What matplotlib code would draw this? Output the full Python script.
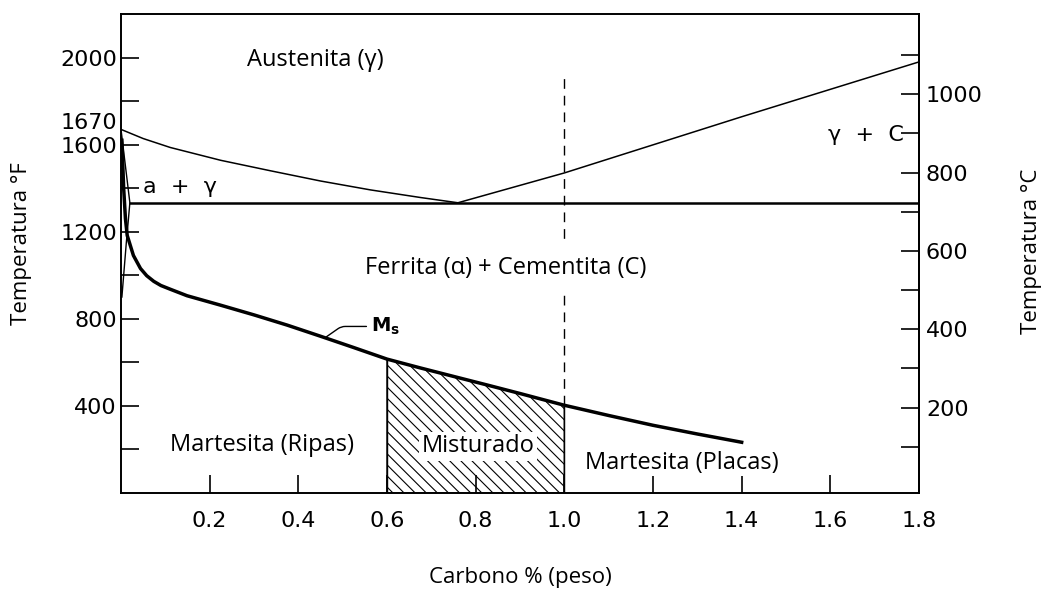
import numpy as np
import matplotlib
matplotlib.use("Agg")
import matplotlib.pyplot as plt

# eixo x: carbono (% peso), eixo y: temperatura (°F)
carbon_ticks = [0.2, 0.4, 0.6, 0.8, 1.0, 1.2, 1.4, 1.6, 1.8]
temp_f_ticks = [200, 400, 600, 800, 1000, 1200, 1400, 1600, 1800, 2000]
temp_f_labels = ['', '400', '', '800', '', '1200', '', '1600', '', '2000']
temp_c_ticks = [100, 200, 300, 400, 500, 600, 700, 800, 900, 1000, 1100]
temp_c_labels = ['', '200', '', '400', '', '600', '', '800', '', '1000', '']

# linha A3 (gama / alfa+gama)
a3_c = [0.0, 0.05, 0.111, 0.225, 0.337, 0.45, 0.563, 0.676, 0.76]
a3_f = [1670, 1628, 1587, 1528, 1480, 1433, 1392, 1357, 1333]
# linha Acm
acm_c = [0.76, 1.0, 1.4, 1.8]
acm_f = [1333, 1470, 1728, 1980]
# linha A1 (eutetoide)
a1_c = [0.02, 1.8]
a1_f = [1333, 1333]
# fronteira ferrita
alpha_c = [0.0, 0.02, 0.012, 0.006, 0.002]
alpha_f = [1670, 1333, 1150, 1000, 900]
# Ms
ms_c = [0.002, 0.006, 0.01, 0.014, 0.028, 0.044, 0.058, 0.074, 0.09, 0.111,
        0.149, 0.224, 0.3, 0.375, 0.45, 0.525, 0.6, 0.676, 0.751, 0.826,
        0.9, 1.0, 1.1, 1.2, 1.3, 1.4]
ms_f = [1620, 1400, 1260, 1183, 1091, 1031, 998, 972, 953, 936,
        906, 863, 818, 771, 720, 668, 615, 574, 535, 496,
        457, 403, 356, 311, 271, 233]
mixed_lo, mixed_hi = 0.6, 1.0
dashed_top = 1910

def f2c(f):
    return (np.asarray(f) - 32) * 5 / 9

def c2f(c):
    return np.asarray(c) * 9 / 5 + 32

label_font = 'Open Sans'
tick_font = 'DejaVu Sans'
plt.rcParams['hatch.linewidth'] = 0.8

fig = plt.figure(figsize=(10.45, 5.9), dpi=100)
ax = fig.add_axes([121/1045, 97/590, 798/1045, 479/590])

ax.plot(a3_c, a3_f, color='black', lw=1.1)
ax.plot(acm_c, acm_f, color='black', lw=1.1)
ax.plot(a1_c, a1_f, color='black', lw=1.8)
ax.plot(alpha_c, alpha_f, color='black', lw=1.0)
ax.plot(ms_c, ms_f, color='black', lw=2.5, solid_joinstyle='round')

# regiao misturada (hachurada)
mx = [c for c in ms_c if mixed_lo <= c <= mixed_hi]
my = [f for c, f in zip(ms_c, ms_f) if mixed_lo <= c <= mixed_hi]
ax.fill_between(mx, 0, my, facecolor='none', edgecolor='black', hatch='\\\\\\', lw=1.0)
ax.vlines([mixed_lo, mixed_hi], 0, [my[0], my[-1]], color='black', lw=1.0)
ax.vlines(mixed_hi, my[-1], dashed_top, color='black', lw=1.0, linestyles=(0, (7, 5)))

ax.set_xlim(0, 1.8)
ax.set_ylim(0, 2200)
ax.set_xticks(carbon_ticks)
ax.set_xticklabels([f'{v:.1f}' for v in carbon_ticks], family=tick_font)
ax.set_yticks(temp_f_ticks)
ax.set_yticklabels(temp_f_labels, family=tick_font)
ax.tick_params(direction='in', length=13, width=1.2, labelsize=16, colors='black')
ax.tick_params(axis='x', pad=13)
ax.tick_params(axis='y', pad=3)
for s in ax.spines.values():
    s.set_linewidth(1.4)

sec = ax.secondary_yaxis('right', functions=(f2c, c2f))
sec.set_yticks(temp_c_ticks)
sec.set_yticklabels(temp_c_labels, family=tick_font)
sec.tick_params(direction='in', length=13, width=1.2, labelsize=16, pad=5)
sec.spines['right'].set_linewidth(1.4)

ax.text(-0.008, 1700, '1670', ha='right', va='center', fontsize=16, family=tick_font)

fig.text(520/1045, 1 - 578/590, 'Carbono % (peso)', ha='center', va='center',
         fontsize=16, family=label_font)
fig.text(22/1045, 1 - 244/590, 'Temperatura °F', ha='center', va='center',
         rotation=90, fontsize=16, family=label_font)
fig.text(1031/1045, 1 - 251/590, 'Temperatura °C', ha='center', va='center',
         rotation=90, fontsize=16, family=label_font)

ax.text(0.439, 1988, 'Austenita (γ)', ha='center', va='center', fontsize=17, family=label_font)
ax.text(0.05, 1406, 'a  +  γ', ha='left', va='center', fontsize=16, family=tick_font)
ax.text(1.766, 1645, 'γ  +  C', ha='right', va='center', fontsize=16, family=tick_font)
ax.text(0.867, 1035, 'Ferrita (α) + Cementita (C)', ha='center', va='center', fontsize=17,
        family=label_font, bbox=dict(boxstyle='square,pad=0.6', fc='white', ec='none'))
ax.text(0.317, 220, 'Martesita (Ripas)', ha='center', va='center', fontsize=17, family=label_font)
ax.text(0.805, 215, 'Misturado', ha='center', va='center', fontsize=17, family=label_font,
        bbox=dict(boxstyle='square,pad=0.1', fc='white', ec='none'))
ax.text(1.265, 137, 'Martesita (Placas)', ha='center', va='center', fontsize=17, family=label_font,
        bbox=dict(boxstyle='square,pad=0.05', fc='white', ec='none'))

ax.annotate(r'$\mathbf{M_s}$', xy=(0.461, 714), xytext=(0.563, 765), fontsize=14,
            ha='left', va='center',
            arrowprops=dict(arrowstyle='-', color='black', lw=1.0,
                            connectionstyle='angle,angleA=180,angleB=35,rad=4',
                            shrinkA=1, shrinkB=0))

fig.savefig('out.png', dpi=100)
